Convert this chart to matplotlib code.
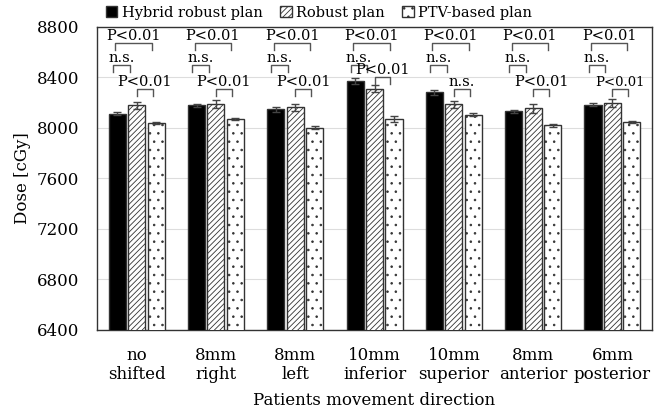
import numpy as np
import matplotlib
matplotlib.use('Agg')
import matplotlib.pyplot as plt

plt.rcParams['font.family'] = ['DejaVu Serif']
plt.rcParams['hatch.linewidth'] = 0.6

# data
categories = ['no\nshifted', '8mm\nright', '8mm\nleft', '10mm\ninferior',
              '10mm\nsuperior', '8mm\nanterior', '6mm\nposterior']
hybrid = [8111, 8180, 8148, 8370, 8283, 8132, 8185]
robust = [8180, 8190, 8164, 8312, 8188, 8156, 8196]
ptv = [8040, 8071, 8002, 8071, 8103, 8020, 8045]
hybrid_err = [12, 12, 18, 25, 18, 14, 15]
robust_err = [28, 30, 28, 30, 28, 35, 32]
ptv_err = [10, 8, 10, 20, 12, 10, 8]

# significance labels per group
top_label = ['P<0.01'] * 7
left_label = ['n.s.'] * 7
right_label = ['P<0.01', 'P<0.01', 'P<0.01', 'P<0.01', 'n.s.', 'P<0.01', 'P<0.01']
right_level = [8309, 8309, 8309, 8400, 8309, 8309, 8309]

x = np.arange(len(categories))
w = 0.215
off = 0.245

fig, ax = plt.subplots(figsize=(6.6, 4.15), dpi=100)
fig.subplots_adjust(left=0.147, right=0.988, top=0.935, bottom=0.205)

ekw = dict(ecolor='#444444', elinewidth=1, capsize=3, capthick=1)
ax.bar(x - off, hybrid, w, yerr=hybrid_err, color='black', edgecolor='#333333',
       linewidth=1, label='Hybrid robust plan', error_kw=ekw, zorder=3)
ax.bar(x, robust, w, yerr=robust_err, color='white', edgecolor='#333333',
       hatch='//////', linewidth=1, label='Robust plan', error_kw=ekw, zorder=3)
ax.bar(x + off, ptv, w, yerr=ptv_err, color='white', edgecolor='#333333',
       hatch='..', linewidth=1, label='PTV-based plan', error_kw=ekw, zorder=3)


def bracket(x0, x1, y, label, fs=10.5):
    h = 52
    ax.plot([x0, x0, x1, x1], [y - h, y, y, y - h], color='#555555', lw=1, zorder=4)
    ax.text((x0 + x1) / 2, y + 3, label, ha='center', va='bottom', fontsize=fs,
            zorder=5, clip_on=False)


for i in range(len(categories)):
    bracket(i - 0.27, i + 0.19, 8673, top_label[i])
    bracket(i - 0.30, i - 0.09, 8499, left_label[i])
    fs = 10.5 if i < len(categories) - 1 else 9.5
    bracket(i + 0.0, i + 0.2, right_level[i], right_label[i], fs)

ax.set_ylim(6400, 8800)
ax.set_xlim(-0.5, len(categories) - 0.5)
ax.set_yticks(np.arange(6400, 8801, 400))
ax.set_xticks(x)
ax.set_xticklabels(categories)
ax.tick_params(axis='both', length=0, labelsize=12)
ax.tick_params(axis='y', pad=13)
ax.tick_params(axis='x', pad=12)
ax.yaxis.grid(True, color='#dddddd', lw=0.8, zorder=0)
ax.set_axisbelow(True)
for s in ax.spines.values():
    s.set_color('#333333')
    s.set_linewidth(1)

ax.set_ylabel('Dose [cGy]', fontsize=12, labelpad=4)
ax.set_xlabel('Patients movement direction', fontsize=12, labelpad=6)

ax.legend(loc='lower center', bbox_to_anchor=(0.4, 1.005), ncol=3, frameon=False,
          fontsize=10.5, handlelength=0.8, handleheight=0.8, handletextpad=0.3,
          columnspacing=1.2, borderaxespad=0)

fig.savefig('out.png', dpi=100)
